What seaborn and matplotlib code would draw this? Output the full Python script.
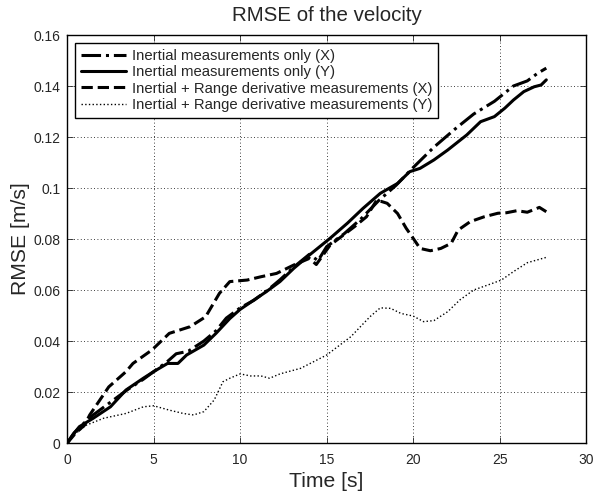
import numpy as np
import pandas as pd
import matplotlib
matplotlib.use("Agg")
import matplotlib.pyplot as plt
import seaborn as sns

# ---- data ----
t_inx = [0, 0.4, 1, 1.5, 2.5, 3.5, 4.4, 5, 5.8, 6.3, 7, 7.9, 8.6, 9.2, 10, 10.8, 11.6,
         12.3, 13.1, 14, 14.5, 15, 16, 17, 18, 19, 20, 21.2, 22.4, 23.5, 24.7, 25.8,
         26.6, 27.2, 27.7]
v_inx = [0, 0.004, 0.008, 0.011, 0.016, 0.021, 0.025, 0.028, 0.032, 0.035, 0.036, 0.040,
         0.044, 0.049, 0.053, 0.056, 0.060, 0.064, 0.069, 0.074, 0.0715, 0.077, 0.082,
         0.088, 0.095, 0.101, 0.108, 0.116, 0.123, 0.129, 0.134, 0.140, 0.142, 0.145, 0.147]

t_iny = [0, 0.3, 0.7, 1.5, 2.5, 3.4, 4.4, 5, 5.8, 6.4, 6.9, 7.9, 8.6, 9.4, 10, 10.8, 11.5,
         12.3, 13.1, 14, 15.2, 16.2, 17.1, 18.1, 19.1, 19.8, 20.4, 21.2, 22, 23.1, 23.9,
         24.7, 25.3, 25.8, 26.4, 27, 27.4, 27.7]
v_iny = [0, 0.003, 0.0064, 0.0097, 0.0142, 0.0208, 0.0254, 0.028, 0.0312, 0.0312, 0.0345,
         0.0384, 0.043, 0.0488, 0.0524, 0.0561, 0.0593, 0.0633, 0.0685, 0.0737, 0.0803,
         0.0862, 0.092, 0.0979, 0.1018, 0.1064, 0.1077, 0.111, 0.1149, 0.1208, 0.126,
         0.128, 0.1313, 0.1345, 0.1378, 0.1397, 0.1404, 0.1424]

t_rgx = [0, 0.5, 1.0, 1.3, 2.4, 3.4, 3.8, 4.9, 5.9, 7.1, 8.0, 8.8, 9.4, 10.4, 11.2, 12.1,
         13.1, 14, 14.4, 15.2, 16.6, 17.3, 17.9, 18.5, 19.1, 19.6, 20, 20.4, 21, 21.6,
         22.2, 22.6, 23.3, 24.1, 24.9, 25.4, 26, 26.6, 27.3, 27.7]
v_rgx = [0, 0.004, 0.007, 0.011, 0.022, 0.028, 0.0312, 0.0365, 0.043, 0.0456, 0.0495,
         0.0587, 0.0633, 0.0639, 0.0652, 0.0665, 0.0698, 0.0724, 0.070, 0.0776, 0.0848,
         0.0887, 0.0953, 0.094, 0.090, 0.0842, 0.0803, 0.0763, 0.0754, 0.0763, 0.0783,
         0.0835, 0.0868, 0.0887, 0.0901, 0.0903, 0.0911, 0.0905, 0.0924, 0.0907]

t_rgy = [0, 0.35, 1.1, 2.1, 3.4, 4.4, 5, 5.9, 6.7, 7.3, 7.9, 8.5, 9.0, 9.4, 10, 10.6, 11.2,
         11.7, 12.3, 13.5, 15, 16.4, 17.5, 18.1, 18.7, 19.3, 20, 20.6, 21.2, 22, 22.7,
         23.5, 24.5, 25.1, 25.8, 26.6, 27.7]
v_rgy = [0, 0.003, 0.007, 0.0097, 0.0116, 0.0142, 0.0146, 0.0129, 0.0116, 0.011, 0.0123,
         0.0169, 0.024, 0.0254, 0.0271, 0.0263, 0.0263, 0.0254, 0.0271, 0.0293, 0.0345,
         0.0417, 0.0495, 0.053, 0.0528, 0.0508, 0.0498, 0.0476, 0.048, 0.0515, 0.0561,
         0.060, 0.0624, 0.0639, 0.0672, 0.0707, 0.0728]

labels = ["Inertial measurements only (X)",
          "Inertial measurements only (Y)",
          "Inertial + Range derivative measurements (X)",
          "Inertial + Range derivative measurements (Y)"]

x_ticks = [0, 5, 10, 15, 20, 25, 30]
y_ticks = [0, 0.02, 0.04, 0.06, 0.08, 0.1, 0.12, 0.14, 0.16]
y_ticklabels = ["0", "0.02", "0.04", "0.06", "0.08", "0.1", "0.12", "0.14", "0.16"]

# ---- plotting ----
sns.set_style("ticks")
plt.rcParams["font.family"] = ["Liberation Sans", "DejaVu Sans"]

fig = plt.figure(figsize=(5.95, 4.93), dpi=100)
ax = fig.add_axes([0.113, 0.1014, 0.872, 0.8276])

series = [(t_inx, v_inx, "-.", 2.2),
          (t_iny, v_iny, "-", 2.2),
          (t_rgx, v_rgx, "--", 2.2),
          (t_rgy, v_rgy, ":", 1.0)]
for (t, v, ls, lw), lab in zip(series, labels):
    df = pd.DataFrame({"t": t, "v": v})
    sns.lineplot(data=df, x="t", y="v", ax=ax, color="black", linestyle=ls,
                 linewidth=lw, label=lab, sort=False, estimator=None)

ax.set_xlim(0, 30)
ax.set_ylim(0, 0.16)
ax.set_xticks(x_ticks)
ax.set_xticklabels([str(x) for x in x_ticks])
ax.set_yticks(y_ticks)
ax.set_yticklabels(y_ticklabels)
ax.tick_params(axis="both", direction="in", top=True, right=True, labelsize=10,
               length=4, width=0.6)
ax.tick_params(axis="x", pad=7)
ax.tick_params(axis="y", pad=5)
for s in ax.spines.values():
    s.set_linewidth(1.0)
    s.set_color("black")
ax.grid(True, linestyle=(0, (1, 3)), color="black", linewidth=0.6)

ax.set_xlabel("Time [s]", fontsize=15.2, labelpad=4)
ax.set_ylabel("RMSE [m/s]", fontsize=15.2, labelpad=2)
ax.set_title("RMSE of the velocity", fontsize=14.8, pad=10)

leg = ax.legend(loc="upper left", fontsize=10.7, handlelength=3.0, labelspacing=0.15,
                borderpad=0.4, borderaxespad=0.55, handletextpad=0.4,
                fancybox=False, framealpha=1, edgecolor="black")
leg.get_frame().set_linewidth(1.0)

fig.savefig("out.png", dpi=100)
